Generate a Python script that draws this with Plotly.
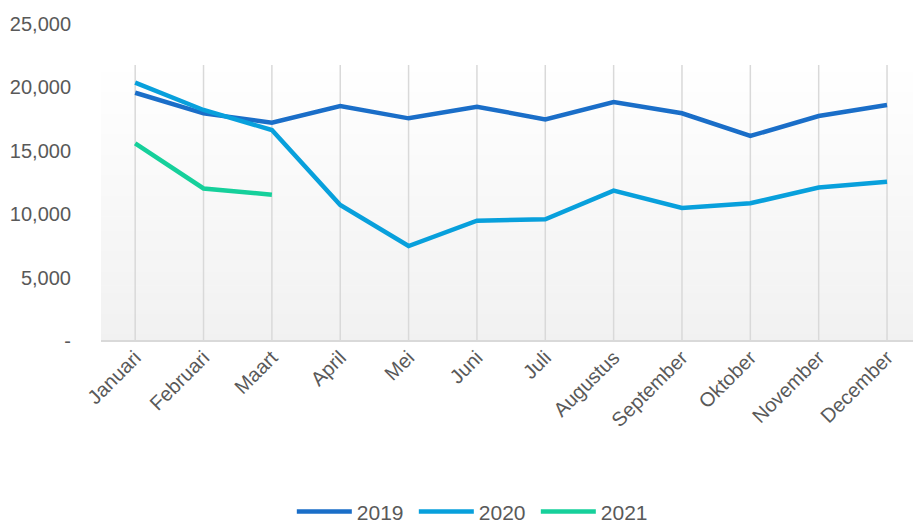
import plotly.graph_objects as go

months = ["Januari", "Februari", "Maart", "April", "Mei", "Juni", "Juli",
          "Augustus", "September", "Oktober", "November", "December"]
y2019 = [19580, 17950, 17220, 18530, 17560, 18480, 17480, 18850, 17960, 16170, 17740, 18610]
y2020 = [20370, 18220, 16640, 10730, 7490, 9490, 9600, 11860, 10490, 10860, 12100, 12560]
y2021 = [15580, 12030, 11540]
ytick_vals = [0, 5000, 10000, 15000, 20000, 25000]
ytick_text = ["-", "5,000", "10,000", "15,000", "20,000", "25,000"]

FONT = "Liberation Sans, Arial, sans-serif"
TXT = "#595959"

fig = go.Figure()
fig.add_trace(go.Scatter(x=months, y=y2019, name="2019", mode="lines",
                         line=dict(color="#1a6ec8", width=4.5)))
fig.add_trace(go.Scatter(x=months[:len(y2020)], y=y2020, name="2020", mode="lines",
                         line=dict(color="#08a0dc", width=4.5)))
fig.add_trace(go.Scatter(x=months[:len(y2021)], y=y2021, name="2021", mode="lines",
                         line=dict(color="#16d09b", width=4.5)))

# gradient background of plot area (white top -> light gray bottom)
shapes = []
n = 40
top = 0.8707
for i in range(n):
    y0 = top * i / n
    y1 = top * (i + 1) / n
    t = (i + 0.5) / n  # 0 bottom -> 1 top
    c = int(round(241 + (255 - 241) * t))
    shapes.append(dict(type="rect", xref="x domain", yref="y domain",
                       x0=0, x1=1, y0=y0, y1=y1 + 0.002, layer="below",
                       line=dict(width=0), fillcolor=f"rgb({c},{c},{c})"))
# vertical gridlines at each category, only within the shaded area
for m in months:
    shapes.append(dict(type="line", xref="x", yref="y domain", x0=m, x1=m,
                       y0=0, y1=top, layer="below",
                       line=dict(color="#d9d9d9", width=1.5)))
# bottom axis line
shapes.append(dict(type="line", xref="x domain", yref="y domain", x0=0, x1=1,
                   y0=0, y1=0, layer="below", line=dict(color="#d9d9d9", width=2)))

fig.update_layout(
    width=914, height=524,
    margin=dict(l=101, r=1, t=24, b=183, autoexpand=False),
    paper_bgcolor="white", plot_bgcolor="rgba(0,0,0,0)",
    font=dict(family=FONT, size=20, color=TXT),
    shapes=shapes,
    showlegend=True,
    legend=dict(orientation="h", x=0.235, xanchor="left", xref="paper",
                y=-0.539, yanchor="middle", font=dict(size=21, color=TXT),
                itemwidth=55, entrywidth=52, entrywidthmode="pixels",
                traceorder="normal"),
)
fig.update_xaxes(type="category", range=[-0.5, 11.38], showgrid=False,
                 showline=False, zeroline=False, automargin=False,
                 tickangle=-45, ticks="", tickfont=dict(size=20, color=TXT, family=FONT))
fig.update_yaxes(range=[0, 25000], tickvals=ytick_vals, ticktext=ytick_text,
                 showgrid=False, zeroline=False, showline=False, ticks="",
                 automargin=False, ticklabelstandoff=29,
                 tickfont=dict(size=20, color=TXT, family=FONT))

fig.write_html("out.html", config={"displayModeBar": False},
               post_script="document.body.style.margin='0';document.body.style.overflow='hidden';")
